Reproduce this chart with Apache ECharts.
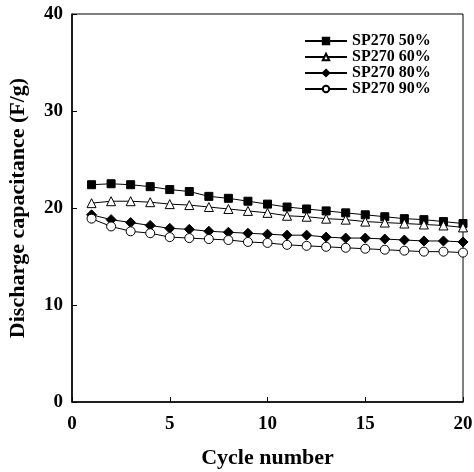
<!DOCTYPE html>
<html>
<head>
<meta charset="utf-8">
<script src="https://cdn.jsdelivr.net/npm/echarts@6/dist/echarts.min.js"></script>
<style>
  html, body { margin: 0; padding: 0; background: #fff; }
  #main { width: 474px; height: 472px; }
</style>
</head>
<body>
<div id="main"></div>
<script>
// cycle numbers
const cycles = [1, 2, 3, 4, 5, 6, 7, 8, 9, 10, 11, 12, 13, 14, 15, 16, 17, 18, 19, 20];
// discharge capacitance (F/g) for each series
const sp50 = [22.4, 22.5, 22.4, 22.2, 21.9, 21.7, 21.2, 21.0, 20.7, 20.4, 20.1, 19.9, 19.7, 19.5, 19.3, 19.1, 18.9, 18.8, 18.6, 18.4];
const sp60 = [20.5, 20.7, 20.7, 20.6, 20.4, 20.3, 20.1, 19.9, 19.7, 19.5, 19.2, 19.1, 18.9, 18.8, 18.6, 18.5, 18.4, 18.3, 18.2, 18.0];
const sp80 = [19.3, 18.8, 18.5, 18.2, 17.9, 17.8, 17.6, 17.5, 17.4, 17.3, 17.2, 17.2, 17.0, 16.9, 16.9, 16.8, 16.7, 16.6, 16.6, 16.5];
const sp90 = [18.9, 18.1, 17.6, 17.4, 17.0, 16.9, 16.8, 16.7, 16.5, 16.4, 16.2, 16.1, 16.0, 15.9, 15.8, 15.7, 15.6, 15.5, 15.5, 15.4];
const names = ['SP270 50%', 'SP270 60%', 'SP270 80%', 'SP270 90%'];

const font = 'Liberation Serif';

function mkSeries(name, data, symbol, filled, size) {
  return {
    name: name,
    type: 'line',
    data: cycles.map((c, i) => [c, data[i]]),
    symbol: symbol,
    symbolSize: size,
    showAllSymbol: true,
    lineStyle: { color: '#000', width: 1 },
    itemStyle: { color: filled ? '#000' : '#fff', borderColor: '#000', borderWidth: 1 },
    emphasis: { disabled: true },
    z: 3
  };
}

const chart = echarts.init(document.getElementById('main'));
chart.setOption({
  animation: false,
  backgroundColor: '#fff',
  textStyle: { fontFamily: font, color: '#000' },
  grid: {
    left: 72, right: 11, top: 14, bottom: 70,
    containLabel: false, outerBoundsMode: 'none',
    show: true, borderColor: '#000', borderWidth: 1
  },
  legend: {
    data: names,
    orient: 'vertical',
    left: 299, top: 28,
    itemWidth: 42, itemHeight: 8, itemGap: 0,
    textStyle: { fontFamily: font, fontWeight: 'bold', fontSize: 16, lineHeight: 16, color: '#000' }
  },
  xAxis: {
    type: 'value',
    min: 0, max: 20, interval: 5,
    name: 'Cycle number',
    nameLocation: 'middle',
    nameGap: 45,
    nameTextStyle: { fontFamily: font, fontWeight: 'bold', fontSize: 22, color: '#000' },
    axisLine: { lineStyle: { color: '#000', width: 1.5 } },
    axisTick: { inside: true, length: 5, lineStyle: { color: '#000' } },
    axisLabel: { fontFamily: font, fontWeight: 'bold', fontSize: 19, color: '#000', margin: 13 },
    splitLine: { show: false }
  },
  yAxis: {
    type: 'value',
    min: 0, max: 40, interval: 10,
    name: 'Discharge capacitance (F/g)',
    nameLocation: 'middle',
    nameGap: 43,
    nameTextStyle: { fontFamily: font, fontWeight: 'bold', fontSize: 22, color: '#000' },
    axisLine: { lineStyle: { color: '#000', width: 1.5 } },
    axisTick: { inside: true, length: 5, lineStyle: { color: '#000' } },
    axisLabel: { fontFamily: font, fontWeight: 'bold', fontSize: 19, color: '#000', margin: 9 },
    splitLine: { show: false }
  },
  series: [
    mkSeries(names[0], sp50, 'rect', true, 8),
    mkSeries(names[1], sp60, 'triangle', false, 9),
    mkSeries(names[2], sp80, 'diamond', true, 10),
    mkSeries(names[3], sp90, 'circle', false, 9)
  ]
});
</script>
</body>
</html>
